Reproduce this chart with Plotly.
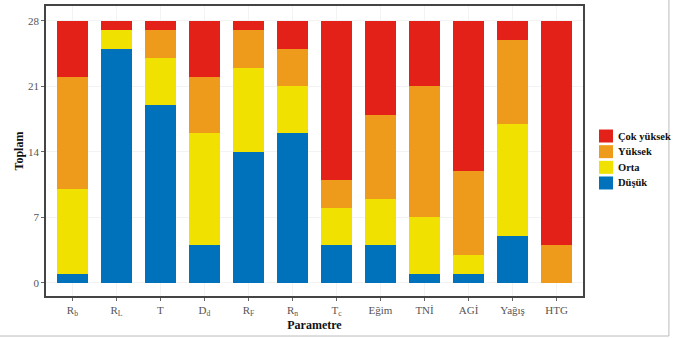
import plotly.graph_objects as go

categories = ["R<sub>b</sub>", "R<sub>L</sub>", "T", "D<sub>d</sub>", "R<sub>F</sub>", "R<sub>n</sub>",
              "T<sub>c</sub>", "Eğim", "TNİ", "AGİ", "Yağış", "HTG"]
dusuk      = [1, 25, 19, 4, 14, 16, 4, 4, 1, 1, 5, 0]
orta       = [9, 2, 5, 12, 9, 5, 4, 5, 6, 2, 12, 0]
yuksek     = [12, 0, 3, 6, 4, 4, 3, 9, 14, 9, 9, 4]
cok_yuksek = [6, 1, 1, 6, 1, 3, 17, 10, 7, 16, 2, 24]
y_ticks = [0, 7, 14, 21, 28]

series = [("Düşük", dusuk, "#0072BB"), ("Orta", orta, "#F1E100"),
          ("Yüksek", yuksek, "#EE9A1A"), ("Çok yüksek", cok_yuksek, "#E32119")]

fig = go.Figure()
for name, vals, col in series:
    fig.add_trace(go.Bar(x=categories, y=vals, name=name, marker=dict(color=col, line=dict(width=0)),
                         width=0.7, showlegend=False))

serif = "Liberation Serif"
fig.update_layout(
    barmode="stack",
    width=680, height=338,
    margin=dict(l=46, r=97, t=6, b=42, autoexpand=False),
    paper_bgcolor="white", plot_bgcolor="white",
    font=dict(family=serif, size=11, color="#4d4d4d"),
    showlegend=False,
    xaxis=dict(type="category", range=[-0.6, 11.6], showline=True, mirror=True, automargin=False,
               linecolor="#444", linewidth=1.5, ticks="outside", ticklen=3, tickcolor="#666",
               showgrid=True, gridcolor="#f3f3f3", gridwidth=1,
               tickfont=dict(family=serif, size=11, color="#555"),
               title=dict(text="<b>Parametre</b>", font=dict(family=serif, size=12, color="#111"),
                          standoff=2)),
    yaxis=dict(range=[-1.4, 29.6], tickvals=y_ticks, showline=True, mirror=True, automargin=False,
               linecolor="#444", linewidth=1.5, ticks="outside", ticklen=3, tickcolor="#666",
               showgrid=True, gridcolor="#f3f3f3", gridwidth=1, zeroline=False,
               tickfont=dict(family=serif, size=11, color="#555"),
               title=dict(text="<b>Toplam</b>", font=dict(family=serif, size=12, color="#111"),
                          standoff=2)),
)

# manual legend (top item = last series)
for i, (name, vals, col) in enumerate(reversed(series)):
    yc = 0.5517 - i * 0.054
    fig.add_shape(type="rect", xref="paper", yref="paper", x0=1.0298, x1=1.0559,
                  y0=yc - 0.0224, y1=yc + 0.0224, fillcolor=col, line=dict(width=0))
    fig.add_annotation(xref="paper", yref="paper", x=1.0615, y=yc, xanchor="left", yanchor="middle",
                       text="<b>" + name + "</b>", showarrow=False,
                       font=dict(family=serif, size=10.5, color="#111"))

# outer light border of the figure panel
fig.add_shape(type="line", xref="paper", yref="paper", x0=1.160, x1=1.160, y0=-0.138, y1=1.03,
              line=dict(color="#bbb", width=1))
fig.add_shape(type="line", xref="paper", yref="paper", x0=-0.09, x1=1.160, y0=-0.138, y1=-0.138,
              line=dict(color="#bbb", width=1))

fig.write_html("out.html", config={"displayModeBar": False},
               post_script="document.body.style.margin='0';document.body.style.overflow='hidden';")
